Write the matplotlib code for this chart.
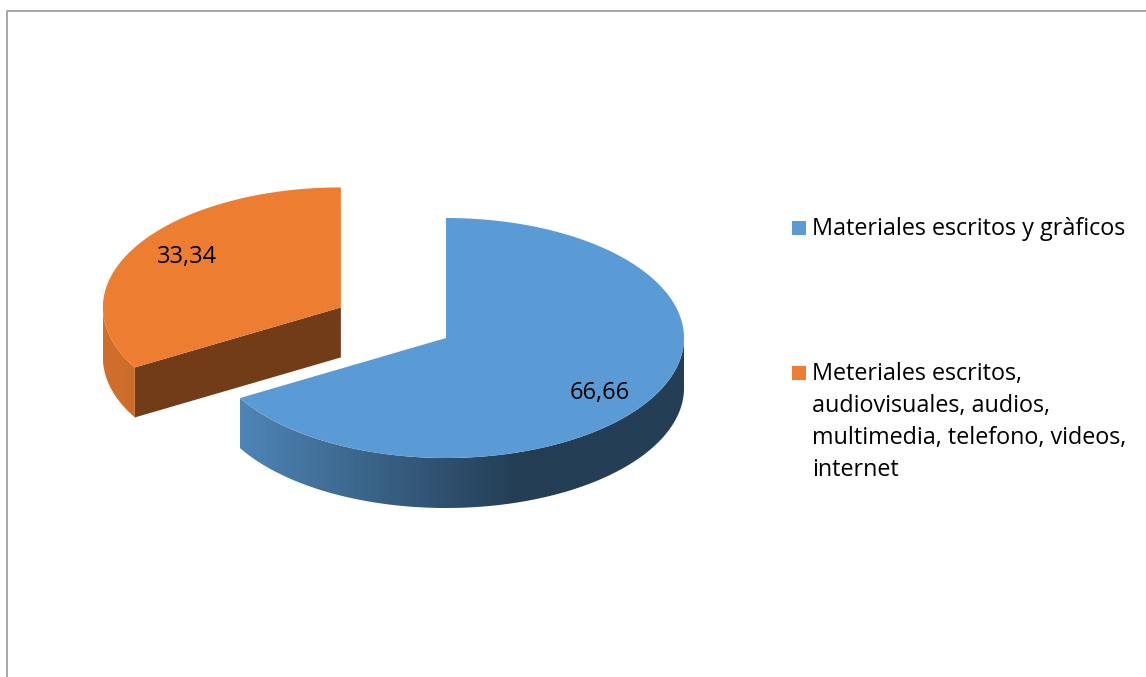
import matplotlib
matplotlib.use("Agg")
import matplotlib.pyplot as plt
from matplotlib.patches import Polygon, Rectangle
import numpy as np

# pie values and legend texts
values = [66.66, 33.34]
value_labels = ["66,66", "33,34"]
legend_labels = [
    "Materiales escritos y gràficos",
    "Meteriales escritos,\naudiovisuales, audios,\nmultimedia, telefono, videos,\ninternet",
]
colors = ["#5B9BD5", "#ED7D31"]
explode = [0.0, 0.51]

W, H = 1146, 677
plt.rcParams['font.family'] = ['Open Sans', 'DejaVu Sans']

fig = plt.figure(figsize=(W / 100, H / 100), dpi=100)
ax = fig.add_axes([0, 0, 1, 1])
ax.set_xlim(0, W)
ax.set_ylim(H, 0)
ax.axis('off')

# chart area frame (only top/left edges fall inside the image)
ax.plot([7, 7, W], [H, 11, 11], color='#A6A6A6', lw=1.4, solid_capstyle='butt')

# 3d pie geometry in pixel space
cx, cy = 446, 338
rx, ry = 238, 120
depth = 50


def shade_factor(c):
    # lighting factor from the cosine of the angle on the rim
    return np.clip(0.86 - 0.397 * (c + 0.87), 0.40, 0.88)


def rim(t, ox, oy, dz=0):
    t = np.radians(t)
    return cx + ox + rx * np.cos(t), cy + oy - ry * np.sin(t) + dz


total = sum(values)
cum = 0.0
slices = []
for v, col, ex, lab in zip(values, colors, explode, value_labels):
    t_start = 90 - cum / total * 360
    t_end = 90 - (cum + v) / total * 360
    cum += v
    mid = np.radians((t_start + t_end) / 2)
    ox = ex * rx * np.cos(mid)
    oy = -ex * ry * np.sin(mid)
    slices.append((t_start, t_end, col, ox, oy, mid, lab))

# draw the exploded (back-left) slice first
for t_start, t_end, col, ox, oy, mid, lab in sorted(slices, key=lambda s: s[4]):
    base = np.array(matplotlib.colors.to_rgb(col))

    # cut faces along the radii
    for t, visible in ((t_start, np.cos(np.radians(t_start)) < -1e-6),
                       (t_end, np.cos(np.radians(t_end)) > 1e-6)):
        if not visible:
            continue
        ex_, ey_ = rim(t, ox, oy)
        quad = [(cx + ox, cy + oy), (ex_, ey_), (ex_, ey_ + depth), (cx + ox, cy + oy + depth)]
        ax.add_patch(Polygon(quad, closed=True, facecolor=tuple(base * 0.48),
                             edgecolor='none', zorder=2))

    # outer side, front half only, shaded left to right
    lo, hi = max(t_end, -180), min(t_start, 0)
    if hi > lo:
        ts = np.linspace(lo, hi, 200)
        xt, yt = rim(ts, ox, oy)
        xb, yb = rim(ts[::-1], ox, oy, depth)
        side = Polygon(list(zip(xt, yt)) + list(zip(xb, yb)), closed=True,
                       facecolor='none', edgecolor='none')
        ax.add_patch(side)
        x0, x1 = xt.min(), xt.max()
        gx = np.linspace(x0, x1, 400)
        c = np.clip((gx - cx - ox) / rx, -1, 1)
        grad = np.clip(base[None, :] * shade_factor(c)[:, None], 0, 1)[None, :, :]
        im = ax.imshow(grad, extent=(x0, x1, yb.max() + 1, yt.min() - 1),
                       aspect='auto', interpolation='bilinear', zorder=3)
        im.set_clip_path(side)

    # top face
    ts = np.linspace(t_end, t_start, 300)
    xs, ys = rim(ts, ox, oy)
    pts = [(cx + ox, cy + oy)] + list(zip(xs, ys))
    ax.add_patch(Polygon(pts, closed=True, facecolor=col, edgecolor='none', zorder=4))

    # value label on the top face
    ax.text(cx + ox + 0.745 * rx * np.cos(mid), cy + oy - 0.88 * ry * np.sin(mid) + 2, lab,
            ha='center', va='center', fontsize=17, color='black', zorder=5)

ax.set_xlim(0, W)
ax.set_ylim(H, 0)

# legend: square key + one text per line, 32 px between baselines
legend_base = [235, 380]
for lab, col, y in zip(legend_labels, colors, legend_base):
    ax.add_patch(Rectangle((792, y - 14), 14, 14, facecolor=col, edgecolor='none'))
    for i, line in enumerate(lab.split("\n")):
        ax.text(812, y + 32 * i, line, ha='left', va='baseline', fontsize=16.8,
                color='black')

fig.savefig("out.png", dpi=100, facecolor='white')
